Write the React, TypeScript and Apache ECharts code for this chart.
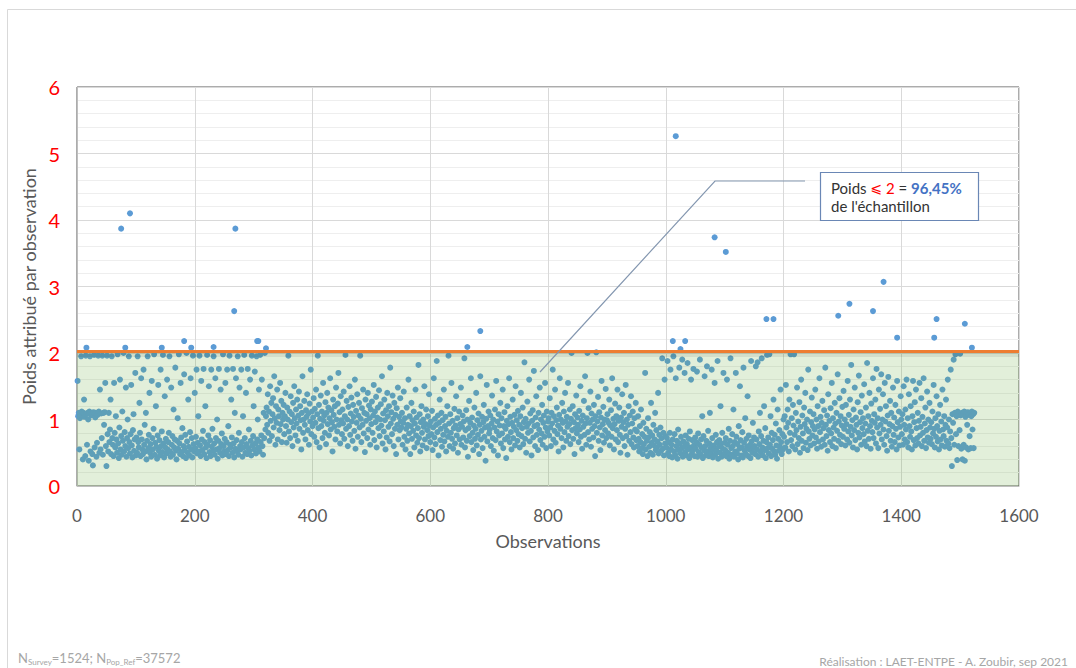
import React, { useEffect, useRef } from "react";
import * as echarts from "echarts";

// ---- axes ----
const X_MIN = 0;
const X_MAX = 1600;
const X_STEP = 200;
const Y_MIN = 0;
const Y_MAX = 6;
const Y_STEP = 1;
const THRESHOLD_LINE = 2.03;

// ---- weights per observation (blocks of 50 observations) ----
const w0001 = [
  1.58, 1.05, 1.1, 0.55, 1.02, 1.08, 1.95, 1.12, 1.06, 0.4,
  1.1, 1.3, 1.04, 0.45, 1.96, 1.08, 0.62, 1.1, 1.0, 0.38,
  1.12, 1.95, 0.52, 1.06, 1.09, 0.48, 0.31, 1.11, 1.97, 0.58,
  1.03, 1.1, 0.44, 0.65, 1.07, 1.96, 1.12, 0.5, 1.45, 0.55,
  1.09, 0.72, 1.96, 0.47, 1.1, 0.92, 1.11, 1.55, 0.6, 0.3,
];
const w0051 = [
  1.96, 0.78, 0.52, 1.1, 0.66, 0.85, 1.3, 0.48, 1.95, 0.72,
  0.62, 0.45, 1.55, 0.8, 0.58, 1.05, 0.7, 0.5, 1.98, 0.64,
  0.42, 0.88, 1.6, 0.55, 0.75, 0.47, 1.12, 0.68, 2.0, 0.52,
  0.81, 0.6, 1.48, 0.44, 0.72, 1.0, 0.57, 1.95, 0.66, 0.49,
  0.78, 1.52, 0.61, 0.43, 0.84, 1.08, 0.53, 0.7, 1.7, 0.46,
];
const w0101 = [
  0.73, 0.5, 1.95, 0.66, 0.58, 1.25, 0.8, 0.45, 1.62, 0.7,
  0.55, 0.48, 1.75, 0.62, 0.92, 0.52, 1.1, 0.4, 0.68, 1.95,
  0.57, 0.77, 1.4, 0.5, 0.63, 0.44, 1.58, 0.72, 0.55, 0.86,
  1.98, 0.47, 0.65, 1.2, 0.59, 0.41, 0.76, 1.52, 0.53, 0.69,
  0.46, 1.75, 0.6, 0.82, 0.51, 1.97, 0.64, 0.43, 1.35, 0.58,
];
const w0151 = [
  0.71, 0.49, 1.6, 0.55, 0.66, 0.8, 1.95, 0.52, 0.44, 1.48,
  0.62, 0.75, 0.47, 1.15, 0.58, 0.7, 1.78, 0.53, 0.4, 0.68,
  1.02, 0.56, 1.98, 0.64, 0.48, 1.55, 0.73, 0.51, 0.87, 0.45,
  0.6, 1.68, 0.54, 0.77, 0.42, 2.0, 0.67, 0.5, 1.3, 0.59,
  0.46, 0.81, 1.62, 0.55, 0.72, 0.43, 1.96, 0.63, 0.52, 1.4,
];
const w0201 = [
  0.57, 0.74, 1.75, 0.49, 0.65, 1.05, 0.52, 1.96, 0.61, 0.45,
  1.58, 0.7, 0.54, 0.83, 1.76, 0.48, 0.66, 1.2, 0.58, 0.42,
  1.97, 0.62, 0.76, 1.5, 0.51, 0.69, 0.45, 1.75, 0.59, 0.86,
  0.53, 1.95, 0.64, 0.47, 1.62, 0.72, 0.55, 1.0, 0.41, 0.68,
  1.76, 0.57, 0.5, 1.45, 0.63, 0.79, 0.46, 1.98, 0.6, 0.52,
];
const w0251 = [
  0.71, 1.55, 0.48, 0.66, 1.75, 0.54, 0.9, 0.45, 1.96, 0.62,
  0.58, 1.3, 0.73, 0.5, 1.76, 0.64, 0.43, 1.1, 0.56, 1.62,
  0.69, 0.52, 1.95, 0.47, 0.8, 1.48, 0.6, 0.55, 1.75, 0.66,
  0.44, 1.05, 0.58, 1.97, 0.72, 0.5, 1.4, 0.63, 0.48, 1.76,
  0.57, 0.85, 0.53, 1.6, 0.68, 0.46, 1.96, 0.61, 0.75, 1.2,
];
const w0301 = [
  0.55, 1.72, 0.64, 0.49, 1.95, 0.7, 1.0, 0.58, 1.45, 0.52,
  1.97, 0.66, 0.76, 1.6, 0.6, 0.47, 1.1, 0.72, 2.0, 0.85,
  1.05, 1.18, 0.92, 1.38, 0.8, 1.12, 0.68, 1.5, 0.98, 1.25,
  0.75, 1.08, 1.32, 0.88, 1.65, 1.02, 0.62, 1.2, 0.95, 1.45,
  0.7, 1.15, 1.05, 0.84, 1.55, 0.93, 1.28, 0.66, 1.1, 1.0,
];
const w0351 = [
  1.22, 0.78, 1.05, 1.4, 0.9, 0.65, 1.18, 1.0, 1.96, 0.82,
  1.12, 0.72, 1.35, 0.96, 1.08, 0.6, 1.25, 0.88, 1.5, 1.02,
  0.76, 1.15, 0.94, 1.3, 0.68, 1.06, 1.42, 0.86, 1.2, 0.99,
  0.55, 1.1, 1.65, 0.8, 1.0, 1.28, 0.92, 0.7, 1.14, 1.04,
  1.38, 0.84, 1.09, 0.62, 1.24, 0.97, 1.75, 0.78, 1.12, 0.9,
];
const w0401 = [
  1.03, 1.32, 0.74, 1.16, 0.95, 1.45, 0.66, 1.08, 1.96, 0.87,
  1.22, 0.58, 1.01, 1.36, 0.9, 1.12, 0.72, 1.55, 0.98, 1.06,
  0.8, 1.26, 0.63, 1.1, 1.4, 0.93, 1.18, 0.76, 1.02, 1.62,
  0.85, 1.14, 0.96, 0.52, 1.3, 1.07, 0.89, 1.2, 0.7, 1.48,
  1.0, 0.82, 1.24, 1.7, 0.92, 1.11, 0.64, 1.35, 0.99, 0.78,
];
const w0451 = [
  1.15, 0.94, 1.42, 0.71, 1.05, 1.97, 0.86, 1.28, 1.0, 0.6,
  1.19, 0.9, 1.5, 0.77, 1.09, 1.33, 0.97, 0.68, 1.22, 1.04,
  0.83, 1.6, 0.56, 1.13, 0.95, 1.38, 0.74, 1.06, 1.25, 0.88,
  1.96, 1.01, 0.66, 1.17, 0.92, 1.45, 0.79, 1.1, 0.51, 1.3,
  0.98, 1.08, 0.72, 1.4, 0.85, 1.21, 1.02, 0.62, 1.15, 0.93,
];
const w0501 = [
  1.27, 0.8, 1.06, 1.52, 0.69, 1.12, 0.96, 1.34, 0.58, 1.03,
  1.18, 0.87, 1.44, 0.75, 1.0, 1.23, 0.91, 1.65, 0.64, 1.09,
  0.82, 1.3, 0.99, 0.55, 1.14, 0.73, 1.4, 1.05, 0.89, 1.2,
  0.67, 1.78, 0.94, 1.11, 0.78, 1.36, 1.01, 0.6, 1.25, 0.86,
  1.07, 0.48, 1.17, 0.92, 1.48, 0.7, 1.04, 0.84, 1.32, 0.97,
];
const w0551 = [
  0.88, 1.1, 0.62, 0.95, 1.42, 0.74, 1.02, 0.55, 0.86, 1.18,
  0.68, 0.92, 1.6, 0.79, 1.05, 0.48, 0.9, 1.25, 0.71, 0.99,
  0.83, 1.12, 0.58, 0.94, 1.45, 0.76, 1.03, 0.65, 0.87, 1.82,
  0.72, 1.08, 0.52, 0.96, 1.2, 0.8, 0.61, 1.0, 0.89, 1.5,
  0.7, 0.93, 1.15, 0.57, 0.84, 1.05, 0.75, 1.38, 0.91, 0.66,
];
const w0601 = [
  0.97, 0.78, 1.13, 0.54, 0.88, 1.62, 0.73, 1.01, 0.63, 0.92,
  1.88, 0.81, 1.06, 0.46, 0.95, 1.3, 0.69, 0.86, 1.1, 0.59,
  0.99, 0.77, 1.45, 0.67, 0.9, 1.04, 0.52, 0.83, 1.2, 0.74,
  1.96, 0.94, 0.6, 1.08, 0.8, 1.55, 0.71, 0.98, 0.56, 0.87,
  1.16, 0.64, 0.91, 1.35, 0.76, 1.02, 0.5, 0.85, 1.12, 0.7,
];
const w0651 = [
  0.93, 1.48, 0.62, 0.89, 1.06, 0.73, 0.97, 1.92, 0.58, 0.84,
  1.14, 0.68, 1.0, 0.44, 0.87, 1.28, 0.75, 0.95, 1.62, 0.66,
  1.03, 0.8, 0.54, 0.91, 1.18, 0.71, 0.86, 1.4, 0.61, 0.99,
  0.77, 1.09, 0.48, 0.92, 1.65, 0.7, 0.83, 1.04, 0.57, 0.96,
  1.22, 0.74, 0.88, 0.38, 1.01, 1.52, 0.67, 0.9, 1.12, 0.79,
];
const w0701 = [
  0.85, 1.06, 0.6, 0.94, 1.36, 0.72, 1.0, 0.53, 0.88, 1.15,
  0.69, 1.58, 0.82, 0.97, 0.46, 1.08, 0.76, 0.91, 1.25, 0.64,
  1.02, 0.79, 1.45, 0.57, 0.9, 1.11, 0.7, 0.86, 0.42, 0.98,
  1.2, 0.74, 0.93, 1.62, 0.66, 1.04, 0.81, 0.55, 0.95, 1.3,
  0.72, 0.89, 1.07, 0.61, 1.5, 0.84, 0.99, 0.68, 1.13, 0.78,
];
const w0751 = [
  0.92, 0.58, 1.05, 1.4, 0.75, 0.87, 1.18, 0.63, 0.96, 1.86,
  0.71, 1.01, 0.5, 0.89, 1.27, 0.8, 0.94, 1.6, 0.67, 1.09,
  0.83, 0.46, 0.98, 1.14, 0.73, 1.73, 0.9, 0.6, 1.03, 1.35,
  0.77, 0.92, 0.54, 1.1, 0.85, 1.48, 0.69, 1.0, 0.79, 1.22,
  0.62, 0.95, 1.06, 0.74, 1.55, 0.88, 0.57, 1.12, 0.82, 0.97,
];
const w0801 = [
  1.02, 0.76, 1.32, 0.88, 0.6, 1.1, 0.94, 1.75, 0.7, 1.05,
  0.83, 1.45, 0.65, 0.99, 1.18, 0.78, 0.91, 0.52, 1.07, 1.62,
  0.86, 1.0, 0.72, 1.25, 0.95, 0.58, 1.12, 0.81, 1.4, 0.97,
  0.68, 1.04, 0.89, 1.55, 0.75, 0.93, 1.15, 0.63, 1.01, 2.0,
  0.84, 1.2, 0.71, 0.96, 0.48, 1.08, 0.87, 1.36, 0.79, 1.03,
];
const w0851 = [
  0.92, 0.66, 1.13, 0.85, 1.5, 0.74, 0.98, 0.56, 1.06, 0.89,
  1.28, 0.77, 1.65, 0.94, 0.62, 1.02, 2.0, 0.81, 1.17, 0.7,
  0.95, 1.42, 0.59, 1.09, 0.86, 1.0, 0.73, 1.22, 0.9, 0.45,
  1.05, 2.01, 0.8, 0.97, 1.34, 0.68, 1.11, 0.88, 0.54, 1.03,
  1.58, 0.76, 0.93, 1.19, 0.65, 1.0, 0.84, 1.46, 0.72, 0.99,
];
const w0901 = [
  1.08, 0.79, 0.95, 1.3, 0.61, 0.91, 1.14, 0.74, 1.62, 0.87,
  1.01, 0.55, 0.93, 1.24, 0.7, 1.05, 0.84, 1.45, 0.66, 0.98,
  1.18, 0.77, 0.5, 1.03, 0.89, 1.38, 0.72, 0.96, 1.1, 0.6,
  0.86, 1.52, 0.75, 1.0, 0.47, 0.92, 1.2, 0.68, 1.06, 0.81,
  1.35, 0.63, 0.94, 1.12, 0.73, 0.58, 1.02, 0.85, 1.25, 0.69,
];
const w0951 = [
  0.82, 0.6, 1.05, 0.71, 0.52, 0.9, 0.66, 1.15, 0.57, 0.78,
  0.48, 0.95, 0.63, 0.74, 1.7, 0.55, 0.86, 0.68, 0.45, 1.02,
  0.73, 0.59, 0.81, 0.5, 1.25, 0.65, 0.76, 0.47, 0.92, 0.61,
  0.7, 1.1, 0.54, 0.84, 0.58, 0.67, 1.4, 0.49, 0.77, 0.62,
  0.88, 0.53, 0.72, 1.92, 0.56, 0.8, 0.46, 1.6, 0.64, 0.75,
];
const w1001 = [
  0.58, 0.72, 1.88, 0.5, 0.66, 0.45, 0.8, 1.75, 0.55, 0.62,
  0.43, 0.7, 1.95, 0.52, 0.78, 0.47, 1.62, 0.6, 0.68, 0.41,
  0.85, 0.54, 1.78, 0.64, 0.49, 0.74, 0.57, 1.9, 0.44, 0.67,
  0.59, 1.7, 0.51, 0.76, 0.46, 0.63, 1.85, 0.55, 0.71, 0.42,
  0.82, 0.58, 1.6, 0.48, 0.69, 0.53, 1.76, 0.61, 0.45, 0.73,
];
const w1051 = [
  0.56, 0.66, 1.72, 0.44, 0.79, 0.51, 0.62, 1.9, 0.48, 0.7,
  0.58, 1.05, 0.42, 0.75, 0.54, 1.65, 0.6, 0.46, 0.68, 1.8,
  0.52, 0.83, 0.45, 0.64, 1.1, 0.57, 0.49, 1.75, 0.72, 0.43,
  0.61, 0.55, 1.55, 0.47, 0.77, 0.53, 0.66, 1.88, 0.41, 0.59,
  0.69, 0.5, 1.2, 0.63, 0.44, 0.8, 0.56, 1.7, 0.48, 0.65,
];
const w1101 = [
  0.54, 0.72, 0.45, 1.6, 0.62, 0.5, 0.86, 0.41, 0.68, 1.92,
  0.57, 0.47, 0.78, 0.6, 1.15, 0.44, 0.66, 0.52, 1.7, 0.74,
  0.49, 0.63, 0.4, 0.9, 0.56, 1.5, 0.69, 0.46, 0.58, 0.81,
  0.43, 1.78, 0.65, 0.53, 1.02, 0.48, 0.71, 0.59, 1.35, 0.45,
  0.76, 0.55, 0.62, 0.42, 1.88, 0.67, 0.5, 0.95, 0.57, 0.73,
];
const w1151 = [
  0.6, 0.48, 1.8, 0.7, 0.55, 1.86, 0.44, 0.82, 0.63, 1.1,
  0.51, 0.75, 1.92, 0.58, 0.46, 0.68, 1.2, 0.54, 0.87, 0.42,
  0.66, 1.97, 0.57, 0.73, 0.49, 1.98, 0.62, 1.05, 0.45, 0.8,
  0.56, 0.69, 1.3, 0.52, 0.77, 0.47, 0.94, 0.61, 0.41, 1.15,
  0.71, 0.53, 0.84, 0.59, 1.45, 0.66, 0.48, 0.78, 0.55, 1.0,
];
const w1201 = [
  0.74, 1.05, 0.58, 1.52, 0.88, 0.66, 1.15, 0.95, 0.52, 1.3,
  0.8, 1.98, 0.69, 1.02, 0.6, 1.22, 0.91, 1.98, 0.77, 0.55,
  1.1, 0.84, 1.48, 0.63, 0.97, 0.72, 1.26, 0.5, 0.89, 1.6,
  0.68, 1.06, 0.79, 0.57, 1.18, 0.93, 1.4, 0.65, 0.86, 1.0,
  0.54, 1.75, 0.82, 0.71, 1.12, 0.61, 0.96, 1.33, 0.76, 0.9,
];
const w1251 = [
  1.08, 0.64, 0.85, 1.45, 0.73, 1.0, 0.56, 1.2, 0.9, 0.67,
  1.62, 0.81, 1.04, 0.59, 0.95, 1.28, 0.7, 0.87, 1.14, 0.62,
  1.78, 0.92, 0.75, 1.06, 0.53, 1.38, 0.84, 0.98, 0.66, 1.17,
  0.79, 1.55, 0.6, 1.02, 0.88, 0.71, 1.25, 0.94, 0.57, 1.1,
  0.83, 1.68, 0.68, 0.97, 1.32, 0.77, 1.05, 0.63, 0.91, 1.19,
];
const w1301 = [
  0.74, 1.43, 0.86, 1.0, 0.61, 1.22, 0.93, 0.7, 1.58, 0.82,
  1.07, 0.65, 1.3, 0.89, 1.82, 0.76, 0.99, 0.58, 1.15, 0.84,
  1.48, 0.69, 1.03, 0.92, 0.55, 1.26, 0.8, 1.66, 0.73, 0.96,
  1.11, 0.62, 1.36, 0.87, 1.02, 0.78, 1.53, 0.67, 0.94, 1.18,
  0.6, 1.85, 0.83, 1.05, 0.71, 1.4, 0.9, 0.56, 1.24, 0.98,
];
const w1351 = [
  0.81, 1.62, 0.72, 1.08, 0.95, 1.3, 0.64, 1.76, 0.88, 1.02,
  0.57, 1.45, 0.79, 1.16, 0.92, 1.68, 0.7, 1.0, 1.38, 0.85,
  0.62, 1.55, 0.97, 1.2, 0.75, 0.53, 1.06, 1.64, 0.83, 0.93,
  1.28, 0.68, 1.1, 0.59, 0.9, 1.48, 0.77, 1.03, 0.66, 1.22,
  0.86, 0.55, 1.58, 0.96, 0.73, 1.12, 0.61, 0.89, 1.35, 1.0,
];
const w1401 = [
  0.78, 1.08, 0.62, 1.5, 0.92, 0.7, 1.15, 0.85, 1.6, 0.66,
  1.02, 0.58, 1.38, 0.9, 0.74, 1.2, 0.82, 0.55, 1.05, 1.58,
  0.69, 0.96, 1.26, 0.61, 1.45, 0.87, 0.72, 1.1, 0.64, 0.98,
  1.55, 0.76, 0.89, 1.32, 0.6, 1.04, 0.8, 1.62, 0.68, 0.94,
  1.18, 0.57, 0.84, 1.42, 0.73, 1.0, 0.65, 1.25, 0.88, 0.71,
];
const w1451 = [
  0.96, 0.63, 1.12, 0.79, 1.52, 0.86, 0.58, 1.02, 0.74, 1.35,
  0.9, 0.67, 1.08, 0.55, 0.83, 1.22, 0.7, 0.97, 0.61, 1.45,
  0.85, 0.75, 1.05, 0.59, 0.92, 1.3, 0.68, 0.88, 1.6, 0.64,
  1.0, 0.57, 0.82, 1.75, 0.72, 0.3, 1.08, 0.95, 1.9, 0.62,
  1.1, 1.98, 0.78, 1.05, 0.39, 1.12, 0.6, 1.08, 0.84, 1.99,
];
const w1501 = [
  1.06, 0.56, 1.1, 0.4, 1.08, 0.62, 1.12, 0.38, 1.04, 0.58,
  1.09, 0.92, 1.11, 0.55, 1.07, 0.75, 1.1, 0.57, 1.05, 1.12,
  0.85, 1.08, 0.57, 1.1,
];

// observations with the highest weights: [observation, weight]
const highWeights: [number, number][] = [
  [16, 2.08], [75, 3.87], [82, 2.08], [90, 4.1], [144, 2.08], [182, 2.18],
  [194, 2.08], [232, 2.09], [267, 2.63], [269, 3.87], [306, 2.18], [308, 2.18],
  [321, 2.07], [663, 2.09], [685, 2.33], [1012, 2.18], [1017, 5.26], [1025, 2.06],
  [1033, 2.18], [1083, 3.74], [1102, 3.52], [1171, 2.51], [1183, 2.51], [1293, 2.56],
  [1312, 2.74], [1352, 2.63], [1370, 3.07], [1393, 2.23], [1456, 2.23], [1460, 2.51],
  [1508, 2.44], [1520, 2.08],
];

const weights = [
  ...w0001, ...w0051, ...w0101, ...w0151, ...w0201, ...w0251, ...w0301, ...w0351,
  ...w0401, ...w0451, ...w0501, ...w0551, ...w0601, ...w0651, ...w0701, ...w0751,
  ...w0801, ...w0851, ...w0901, ...w0951, ...w1001, ...w1051, ...w1101, ...w1151,
  ...w1201, ...w1251, ...w1301, ...w1351, ...w1401, ...w1451, ...w1501,
];

const Y_AXIS_NAME = "Poids attribué par observation";
const X_AXIS_NAME = "Observations";

export default function App() {
  const ref = useRef<HTMLDivElement>(null);

  useEffect(() => {
    if (!ref.current) return;
    const chart = echarts.init(ref.current, null, { renderer: "svg" });
    const font = 'Lato, "Open Sans", sans-serif';
    const bulk = weights.map((v, i) => [i + 1, v]);
    const dotColor = "#5b9bd5";

    chart.setOption({
      animation: false,
      backgroundColor: "#ffffff",
      grid: {
        left: 77,
        right: 57,
        top: 87,
        bottom: 182,
        show: true,
        borderColor: "#595959",
        borderWidth: 1,
        backgroundColor: "transparent",
      },
      xAxis: {
        type: "value",
        min: X_MIN,
        max: X_MAX,
        interval: X_STEP,
        name: X_AXIS_NAME,
        nameLocation: "middle",
        nameGap: 46,
        nameTextStyle: { color: "#595959", fontSize: 18, fontFamily: font },
        axisLine: { show: true, lineStyle: { color: "#bfbfbf", width: 1 } },
        axisTick: { show: false },
        axisLabel: {
          color: "#595959",
          fontSize: 17,
          fontFamily: font,
          margin: 21,
          formatter: (v: number) => String(v),
        },
        splitLine: { show: true, lineStyle: { color: "#d9d9d9", width: 1 } },
      },
      yAxis: {
        type: "value",
        min: Y_MIN,
        max: Y_MAX,
        interval: Y_STEP,
        name: Y_AXIS_NAME,
        nameLocation: "middle",
        nameGap: 31,
        nameRotate: 90,
        nameTextStyle: { color: "#595959", fontSize: 18, fontFamily: font },
        axisLine: { show: true, lineStyle: { color: "#bfbfbf", width: 1 } },
        axisTick: { show: false },
        axisLabel: { color: "#ff0000", fontSize: 20, fontFamily: font, margin: 17 },
        splitLine: { show: true, lineStyle: { color: "#d9d9d9", width: 1 } },
        minorTick: { show: false, splitNumber: 5 },
        minorSplitLine: { show: true, lineStyle: { color: "#eeeeee", width: 1 } },
      },
      series: [
        {
          type: "scatter",
          data: bulk,
          symbol: "circle",
          symbolSize: 6,
          itemStyle: { color: dotColor, opacity: 1 },
          silent: true,
          z: 2,
          markLine: {
            silent: true,
            z: 6,
            symbol: ["none", "none"],
            label: { show: false },
            emphasis: { disabled: true },
            data: [
              {
                yAxis: THRESHOLD_LINE - 0.05,
                lineStyle: { color: "rgba(0,0,0,0.07)", width: 5, type: "solid" },
              },
              {
                yAxis: THRESHOLD_LINE,
                lineStyle: { color: "#ed7d31", width: 3, type: "solid" },
              },
            ],
          },
        },
        {
          type: "scatter",
          data: highWeights,
          symbol: "circle",
          symbolSize: 6,
          itemStyle: { color: dotColor, opacity: 1 },
          silent: true,
          z: 2,
        },
        {
          type: "line",
          data: [],
          silent: true,
          z: 3,
          markArea: {
            silent: true,
            z: 3,
            itemStyle: { color: "rgba(112,173,71,0.2)" },
            label: { show: false },
            data: [[{ yAxis: Y_MIN }, { yAxis: THRESHOLD_LINE }]],
          },
        },
      ],
      graphic: [
        {
          type: "line",
          silent: true,
          shape: { x1: 7.5, y1: 9.5, x2: 1076, y2: 9.5 },
          style: { stroke: "#d9d9d9", lineWidth: 1 },
        },
        {
          type: "line",
          silent: true,
          shape: { x1: 7.5, y1: 9.5, x2: 7.5, y2: 668 },
          style: { stroke: "#d9d9d9", lineWidth: 1 },
        },
        {
          type: "polyline",
          silent: true,
          z: 10,
          shape: { points: [[540, 372], [715, 181], [805, 181]] },
          style: { stroke: "#8497b0", lineWidth: 1.2, fill: null },
        },
        {
          type: "rect",
          silent: true,
          z: 10,
          shape: { x: 820.5, y: 172.5, width: 158, height: 48 },
          style: { fill: "#ffffff", stroke: "#6a87b5", lineWidth: 1.2 },
        },
        {
          type: "text",
          silent: true,
          z: 11,
          x: 831,
          y: 179,
          style: {
            text: "{a|Poids }{s|⩽}{r| 2}{a| = }{b|96,45%}\n{a|de l'échantillon}",
            rich: {
              a: { fontSize: 15, fontFamily: font, fill: "#333333", lineHeight: 18 },
              s: { fontSize: 14, fontFamily: '"DejaVu Sans", ' + font, fill: "#ff0000", lineHeight: 18 },
              r: { fontSize: 15, fontFamily: font, fill: "#ff0000", lineHeight: 18 },
              b: { fontSize: 15, fontFamily: font, fill: "#4472c4", fontWeight: "bold", lineHeight: 18 },
            },
          },
        },
        {
          type: "text",
          silent: true,
          x: 18,
          y: 650,
          style: {
            text: "{n|N}{s|Survey}{n|=1524; N}{s|Pop_Ref}{n|=37572}",
            rich: {
              n: { fontSize: 13, fontFamily: font, fill: "#a6a6a6", lineHeight: 16, verticalAlign: "middle" },
              s: { fontSize: 8, fontFamily: font, fill: "#a6a6a6", lineHeight: 8, verticalAlign: "bottom" },
            },
          },
        },
        {
          type: "text",
          silent: true,
          x: 1068,
          y: 661,
          style: {
            text: "Réalisation : LAET-ENTPE - A. Zoubir, sep 2021",
            fontSize: 12,
            fontFamily: font,
            fill: "#a6a6a6",
            align: "right",
            verticalAlign: "middle",
          },
        },
      ],
    });

    return () => chart.dispose();
  }, []);

  return (
    <div
      ref={ref}
      style={{ position: "fixed", left: 0, top: 0, width: 1076, height: 668, background: "#ffffff" }}
    />
  );
}
